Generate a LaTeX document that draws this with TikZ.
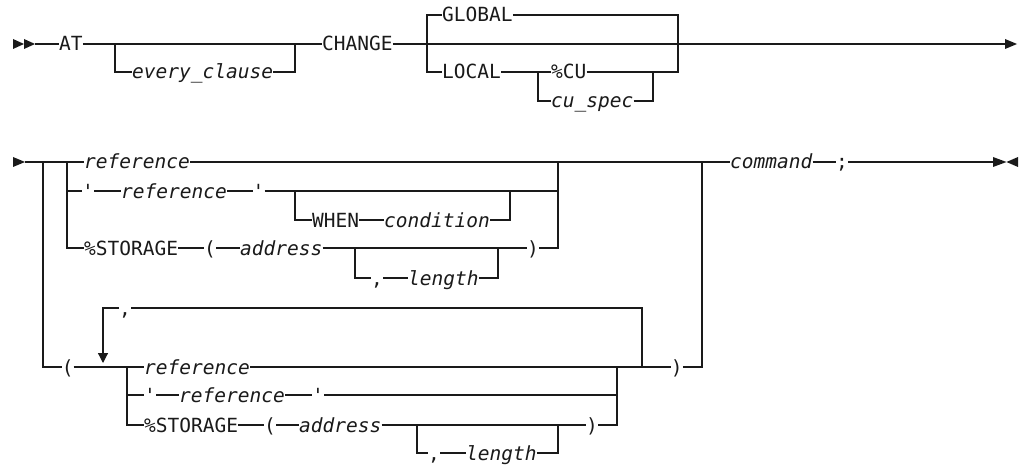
\documentclass[tikz,border=0pt]{standalone}
\usepackage{fontspec}
\usetikzlibrary{arrows.meta}
\newfontfamily\rrmono{DejaVu Sans Mono}
\definecolor{ink}{HTML}{1A1A1A}

\begin{document}
\begin{tikzpicture}[x=1pt,y=-1pt,
  rail/.style={draw=ink,line width=1.2pt,line join=miter},
  kw/.style={inner sep=0pt,text height=14pt,text depth=0pt,anchor=west,
             text=ink,font={\rrmono\fontsize{19.5}{20}\selectfont}},
  var/.style={kw,font={\rrmono\itshape\fontsize{19.5}{20}\selectfont}},
  endtip/.style={fill=ink}]
\fill[white] (0,0) rectangle (1022,465);
\useasboundingbox (0,0) rectangle (1022,465);

% ---------------- first line ----------------
\node[kw]  (at)     at (59,44)  {AT};
\node[var] (every)  at (132,72) {every\_clause};
\node[kw]  (change) at (322,44) {CHANGE};
\node[kw]  (global) at (442,15) {GLOBAL};
\node[kw]  (local)  at (442,72) {LOCAL};
\node[kw]  (cu)     at (551,72) {\%CU};
\node[var] (cuspec) at (551,101) {cu\_spec};

\coordinate (s1) at (35,44);
\coordinate (j1) at (115,44);
\coordinate (j2) at (295,44);
\coordinate (k1) at (427,44);
\coordinate (k2) at (678,44);
\coordinate (m1) at (538,72);
\coordinate (m2) at (653,72);
\coordinate (e1) at (1005,44);

\fill[endtip] (13,39) -- (24,44) -- (13,49) -- cycle;
\fill[endtip] (24,39) -- (35,44) -- (24,49) -- cycle;
\draw[rail] (s1) -- (at.west);
\draw[rail] (at.east) -- (change.west);
\draw[rail] (j1) |- (every.west);
\draw[rail] (every.east) -| (j2);
\draw[rail] (change.east) -- (e1);
\draw[rail] (k1) |- (global.west);
\draw[rail] (k1) |- (local.west);
\draw[rail] (global.east) -| (k2);
\draw[rail] (local.east) -- (cu.west);
\draw[rail] (cu.east) -| (k2);
\draw[rail] (m1) |- (cuspec.west);
\draw[rail] (cuspec.east) -| (m2);
\fill[endtip] (e1) ++(0,-5) -- ++(12,5) -- ++(-12,5) -- cycle;

% ---------------- second line ----------------
\node[var] (ref1)   at (84,162)  {reference};
\node[kw]  (q1)     at (82,191)  {\textquotesingle};
\node[var] (ref2)   at (121,191) {reference};
\node[kw]  (q2)     at (252.5,191) {\textquotesingle};
\node[kw]  (when)   at (312,220) {WHEN};
\node[var] (cond)   at (384,220) {condition};
\node[kw]  (stor1)  at (84,248)  {\%STORAGE};
\node[kw]  (lp1)    at (204,248) {(};
\node[var] (addr1)  at (240,248) {address};
\node[kw]  (rp1)    at (527,248) {)};
\node[kw]  (comma1) at (371,278) {,};
\node[var] (len1)   at (408,278) {length};

\node[kw]  (lp2)    at (61.6,367) {(};
\node[kw]  (comma2) at (119,308) {,};
\node[var] (ref3)   at (144,367) {reference};
\node[kw]  (q3)     at (144,395) {\textquotesingle};
\node[var] (ref4)   at (179,395) {reference};
\node[kw]  (q4)     at (312,395) {\textquotesingle};
\node[kw]  (stor2)  at (144,425) {\%STORAGE};
\node[kw]  (lp3)    at (264,425) {(};
\node[var] (addr2)  at (299,425) {address};
\node[kw]  (rp2)    at (586,425) {)};
\node[kw]  (comma3) at (428,453) {,};
\node[var] (len2)   at (466,453) {length};
\node[kw]  (rp3)    at (670.6,367) {)};

\node[var] (cmd)    at (730,162) {command};
\node[kw]  (semi)   at (836,162) {;};

\coordinate (s2) at (25,162);
\coordinate (a1) at (43,162);
\coordinate (a2) at (702,162);
\coordinate (b1) at (67,162);
\coordinate (b2) at (558,162);
\coordinate (w1) at (295,191);
\coordinate (w2) at (510,191);
\coordinate (l1) at (355,248);
\coordinate (l2) at (498,248);
\coordinate (c1) at (127,367);
\coordinate (c2) at (617,367);
\coordinate (lv) at (103,363);
\coordinate (rv) at (642,367);
\coordinate (n1) at (417,425);
\coordinate (n2) at (558,425);
\coordinate (e2) at (993,162);

\fill[endtip] (13,157) -- (25,162) -- (13,167) -- cycle;
\draw[rail] (s2) -- (ref1.west);
\draw[rail] (ref1.east) -- (cmd.west);
\draw[rail] (cmd.east) -- (semi.west);
\draw[rail] (semi.east) -- (e2);
\fill[endtip] (e2) ++(0,-5) -- ++(13.5,5) -- ++(-13.5,5) -- cycle;
\fill[endtip] (e2) ++(25,-5) -- ++(-11.5,5) -- ++(11.5,5) -- cycle;

% first choice group
\draw[rail] (b1) |- (q1.west);
\draw[rail] (b1) |- (stor1.west);
\draw[rail] (q1.east) -- (ref2.west);
\draw[rail] (ref2.east) -- (q2.west);
\draw[rail] (q2.east) -| (b2);
\draw[rail] (w1) |- (when.west);
\draw[rail] (when.east) -- (cond.west);
\draw[rail] (cond.east) -| (w2);
\draw[rail] (stor1.east) -- (lp1.west);
\draw[rail] (lp1.east) -- (addr1.west);
\draw[rail] (addr1.east) -- (rp1.west);
\draw[rail] (rp1.east) -| (b2);
\draw[rail] (l1) |- (comma1.west);
\draw[rail] (comma1.east) -- (len1.west);
\draw[rail] (len1.east) -| (l2);

% parenthesised repeatable group
\draw[rail] (a1) |- (lp2.west);
\draw[rail] (lp2.east) -- (ref3.west);
\draw[rail] (ref3.east) -- (rp3.west);
\draw[rail] (rp3.east) -| (a2);
\draw[rail] (rv) |- (comma2.east);
\draw[rail,-{Triangle[length=10pt,width=10pt]}] (comma2.west) -| (lv);
\draw[rail] (c1) |- (q3.west);
\draw[rail] (c1) |- (stor2.west);
\draw[rail] (q3.east) -- (ref4.west);
\draw[rail] (ref4.east) -- (q4.west);
\draw[rail] (q4.east) -| (c2);
\draw[rail] (stor2.east) -- (lp3.west);
\draw[rail] (lp3.east) -- (addr2.west);
\draw[rail] (addr2.east) -- (rp2.west);
\draw[rail] (rp2.east) -| (c2);
\draw[rail] (n1) |- (comma3.west);
\draw[rail] (comma3.east) -- (len2.west);
\draw[rail] (len2.east) -| (n2);
\end{tikzpicture}
\end{document}
